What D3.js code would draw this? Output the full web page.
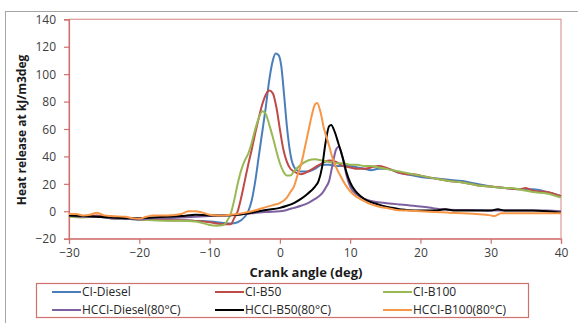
<!DOCTYPE html>
<html>
<head>
<meta charset="utf-8">
<script src="https://cdn.jsdelivr.net/npm/d3@7"></script>
<style>
  body { margin: 0; background: #fff; }
  svg { display: block; font-family: "Open Sans", "Liberation Sans", sans-serif; }
</style>
</head>
<body>
<svg id="chart" width="578" height="323"></svg>
<script>
// series as [crank angle, heat release]
var ciDiesel = [[-30,-3],[-28,-4],[-26,-3.5],[-24,-5],[-22,-5.5],[-20,-6],[-18,-6],[-16,-6.5],[-14,-6.5],[-12,-7],[-10,-7.5],[-8,-8.5],[-7,-9],[-6,-8],[-5,-4],[-4.5,0],[-4,8],[-3.5,22],[-3,40],[-2.5,58],[-2,76],[-1.5,96],[-1,110],[-0.6,115],[-0.2,114],[0.2,106],[0.6,85],[1,62],[1.4,45],[1.8,35],[2.4,30],[3,29],[4,29],[5,31],[6,34],[7,34],[8,33],[9,33],[10,33],[11,32],[12,31],[13,30],[14,31],[15,31],[16,30],[17,28],[18,27],[19,26],[20,25],[22,24],[24,23],[26,22],[28,20],[30,18],[32,17],[34,16],[36,16],[38,14],[40,11]];
var ciB50 = [[-30,-3],[-28,-4],[-26,-3],[-24,-5],[-22,-5],[-20,-6],[-18,-6],[-16,-6.5],[-14,-6.5],[-12,-7],[-10,-8],[-8,-9.5],[-7,-9.5],[-6.5,-5],[-6,0],[-5.5,10],[-5,22],[-4.5,34],[-4,45],[-3.5,57],[-3,68],[-2.5,78],[-2,85],[-1.5,88],[-1,86],[-0.5,76],[0,60],[0.5,45],[1,36],[1.5,31],[2,29],[3,27],[4,29],[5,32],[6,35],[7,37],[8,36],[9,33],[10,32],[11,31],[12,31],[13,32],[14,33],[15,32],[16,30],[17,28],[18,27],[19,27],[20,26],[22,24],[24,22],[26,21],[28,19],[30,18],[32,17],[34,16],[35,17],[36,15],[38,14],[40,11]];
var ciB100 = [[-30,-4],[-28,-4.5],[-26,-4],[-24,-5],[-22,-5.5],[-20,-6],[-18,-6.5],[-16,-7],[-14,-7],[-12,-7.5],[-11,-8.5],[-10,-10],[-9,-10.5],[-8,-10],[-7.5,-7],[-7,-2],[-6.5,8],[-6,20],[-5.5,30],[-5,37],[-4.5,42],[-4,50],[-3.5,60],[-3,68],[-2.5,73],[-2,71],[-1.5,63],[-1,54],[-0.5,44],[0,35],[0.5,29],[1,26],[1.5,26],[2,29],[3,34],[4,37],[5,38],[6,37],[7,36],[8,35],[9,35],[10,34],[11,34],[12,33],[13,33],[14,32],[15,31],[16,30],[17,29],[18,28],[20,26],[22,24],[24,22],[26,21],[28,19],[30,18],[32,17],[33,17],[34,16],[36,14],[38,13],[40,10]];
var hcciDiesel = [[-30,-3],[-28,-4],[-26,-4],[-24,-5],[-22,-5.5],[-20,-6],[-18,-5],[-16,-5],[-14,-4.5],[-12,-4],[-10,-3.5],[-8,-3],[-6,-2.5],[-4,-1.5],[-2,-0.5],[0,0],[1,1],[2,2.5],[3,4],[4,6],[5,9],[6,13],[6.5,17],[7,22],[7.5,34],[8,45],[8.4,47],[8.9,40],[9.5,26],[10,18],[11,12],[12,9],[13,7.5],[14,6.5],[15,6],[16,5.5],[17,5],[18,4.5],[19,4],[20,3.5],[21,3],[22,2],[23,1.5],[25,1],[27,1],[30,0.5],[32,0.5],[34,0.5],[36,0.5],[38,0.5],[40,0]];
var hcciB50 = [[-30,-3],[-28,-3.5],[-26,-4],[-24,-4.5],[-22,-5],[-20,-5],[-18,-4.5],[-16,-4],[-14,-3.5],[-12,-2.5],[-10,-3],[-8,-3],[-6,-2.5],[-4,-1],[-2,1],[0,2.5],[1,4],[2,6],[3,9],[4,13],[5,18],[5.5,22],[6,32],[6.5,50],[7,62],[7.3,63],[7.8,58],[8.3,50],[9,38],[9.5,28],[10,21],[10.7,15],[11.5,11],[12.5,7.5],[14,5],[15,3.5],[16,2.5],[17,1.5],[18,1],[20,0.5],[22,0.5],[23.5,1.5],[25,0.5],[28,0.5],[30,0.5],[31,1.5],[32,0.5],[34,0.5],[36,0.5],[38,0],[40,-1]];
var hcciB100 = [[-30,-2],[-29,-2],[-28,-3],[-27,-2.5],[-26,-1],[-25,-3],[-24,-3.5],[-22,-4],[-21,-5],[-20,-5.5],[-19,-4],[-18,-3],[-16,-3],[-14,-2],[-13,0],[-12,0],[-11,-1],[-10,-2.5],[-9,-3],[-8,-3],[-7,-2.5],[-6,-2],[-5,-1],[-4,0],[-3,1.5],[-2,3],[-1,4.5],[0,6],[1,10],[1.5,14],[2,18],[2.5,26],[3,34],[3.5,45],[4,57],[4.5,69],[5,78],[5.3,79],[5.8,72],[6.2,62],[7,48],[7.6,37],[8.5,27],[9.5,18],[10.5,12],[11.8,8],[13,5],[14,3.5],[15,2.5],[16.5,1],[18,0.5],[20,0],[22,-0.5],[24,-1],[26,-1.5],[28,-2],[30,-3],[30.5,-3.5],[31.5,-1.5],[33,-1.5],[36,-1.5],[38,-1.5],[40,-1.5]];

var seriesNames = ["CI-Diesel", "CI-B50", "CI-B100", "HCCI-Diesel(80°C)", "HCCI-B50(80°C)", "HCCI-B100(80°C)"];
var seriesData = [ciDiesel, ciB50, ciB100, hcciDiesel, hcciB50, hcciB100];
var colors = ["#4a7ebb", "#be4b48", "#98b954", "#7d60a0", "#000000", "#f79646"];
var xTicks = [-30, -20, -10, 0, 10, 20, 30, 40];
var yTicks = [-20, 0, 20, 40, 60, 80, 100, 120, 140];

var svg = d3.select("#chart");
var margin = {left: 69, top: 19.3, right: 561, bottom: 238.7};

var x = d3.scaleLinear().domain([-30, 40]).range([margin.left, margin.right]);
var y = d3.scaleLinear().domain([-20, 140]).range([margin.bottom, margin.top]);

// outer chart frame
svg.append("rect")
	.attr("x", 5.5).attr("y", 11.5)
	.attr("width", 600).attr("height", 400)
	.attr("fill", "none")
	.attr("stroke", "#a6a6a6");

// plot area border
svg.append("rect")
	.attr("x", margin.left).attr("y", margin.top)
	.attr("width", margin.right - margin.left)
	.attr("height", margin.bottom - margin.top)
	.attr("fill", "none")
	.attr("stroke", "#dc9a98")
	.attr("stroke-width", 1.2);

var xAxis = svg.append("g")
	.attr("transform", "translate(0," + margin.bottom + ")")
	.call(d3.axisBottom(x).tickValues(xTicks).tickSize(5).tickPadding(5));
var yAxis = svg.append("g")
	.attr("transform", "translate(" + margin.left + ",0)")
	.call(d3.axisLeft(y).tickValues(yTicks).tickSize(5).tickPadding(8));

[xAxis, yAxis].forEach(function(a) {
	a.select(".domain").attr("stroke", "#d0706e").attr("stroke-width", 1.2);
	a.selectAll(".tick line").attr("stroke", "#d0706e").attr("stroke-width", 1.2);
	a.selectAll(".tick text")
		.attr("font-family", "Open Sans, sans-serif")
		.attr("font-size", 12)
		.attr("fill", "#404040");
});
yAxis.selectAll(".tick text").attr("dy", "0.35em");

// lines
var line = d3.line()
	.x(function(d) { return x(d[0]); })
	.y(function(d) { return y(d[1]); })
	.curve(d3.curveMonotoneX);

seriesData.forEach(function(s, i) {
	svg.append("path")
		.datum(s)
		.attr("d", line)
		.attr("fill", "none")
		.attr("stroke", colors[i])
		.attr("stroke-width", 2)
		.attr("stroke-linejoin", "round");
});

// axis titles
svg.append("text")
	.attr("x", 306).attr("y", 277)
	.attr("text-anchor", "middle")
	.attr("font-size", 13)
	.attr("font-weight", "bold")
	.attr("fill", "#1a1a1a")
	.text("Crank angle (deg)");

svg.append("text")
	.attr("transform", "translate(26,130) rotate(-90)")
	.attr("text-anchor", "middle")
	.attr("font-size", 12)
	.attr("font-weight", "bold")
	.attr("fill", "#1a1a1a")
	.text("Heat release at kJ/m3deg");

// legend
svg.append("rect")
	.attr("x", 36.5).attr("y", 283.5)
	.attr("width", 492).attr("height", 34)
	.attr("fill", "none")
	.attr("stroke", "#d0706e")
	.attr("stroke-width", 1.2);

var legX = [52, 215, 383];
var legY = [292, 310];
seriesNames.forEach(function(name, i) {
	var lx = legX[i % 3], ly = legY[Math.floor(i / 3)];
	svg.append("line")
		.attr("x1", lx).attr("x2", lx + 29)
		.attr("y1", ly).attr("y2", ly)
		.attr("stroke", colors[i])
		.attr("stroke-width", 2);
	svg.append("text")
		.attr("x", lx + 30).attr("y", ly)
		.attr("dy", "0.35em")
		.attr("font-size", 12)
		.attr("fill", "#262626")
		.text(name);
});
</script>
</body>
</html>
